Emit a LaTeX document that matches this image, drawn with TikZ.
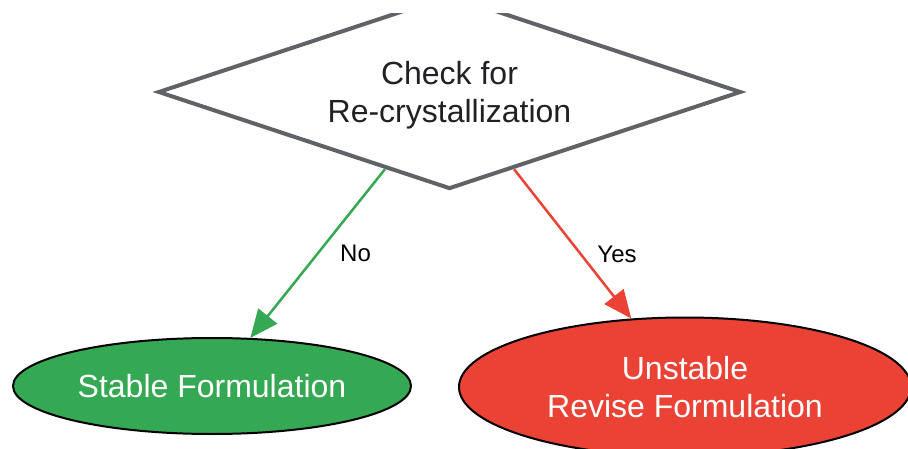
\documentclass[tikz,border=0pt]{standalone}
\usepackage{fontspec}
\setmainfont{Liberation Sans}
\usetikzlibrary{shapes.geometric,arrows.meta,positioning,calc}
\definecolor{okgreen}{HTML}{34A853}
\definecolor{badred}{HTML}{EA4335}
\definecolor{edgegray}{HTML}{5F6368}
\definecolor{darktext}{HTML}{202124}

\begin{document}
\begin{tikzpicture}[x=1pt,y=-1pt,
  decision/.style={shape=diamond,draw=edgegray,line width=4pt,aspect=3,inner sep=2pt,
    minimum width=583pt,minimum height=194pt,align=center,text=darktext,
    font=\fontsize{32}{38}\selectfont},
  result/.style={shape=ellipse,draw=black,line width=2pt,inner sep=2pt,align=center,
    text=white,font=\fontsize{32}{38}\selectfont},
  flow/.style={line width=2.5pt,-{Triangle[length=28pt,width=24pt]}},
  answer/.style={font=\fontsize{24}{28}\selectfont,text=black}]
  \useasboundingbox (0,0) rectangle (908,449);
  \clip (0,14) rectangle (908,449);
  % decision and the two outcomes
  \node [decision] (check) at (449.5,92) {\rule{0pt}{30pt}Check for\\Re-crystallization};
  \node [result,fill=okgreen,minimum width=398pt,minimum height=96pt] (stable) at (212,386) {Stable Formulation};
  \node [result,fill=badred,minimum width=452pt,minimum height=139pt] (unstable) at (685,387) {Unstable\\Revise Formulation};
  % answers
  \draw [flow,color=okgreen] ($(check.south)!0.22!(check.west)$) -- (stable)
    node [answer,pos=0.5,right=18pt] {No};
  \draw [flow,color=badred] ($(check.south)!0.22!(check.east)$) -- (unstable)
    node [answer,pos=0.57,right=12pt] {Yes};
\end{tikzpicture}
\end{document}
